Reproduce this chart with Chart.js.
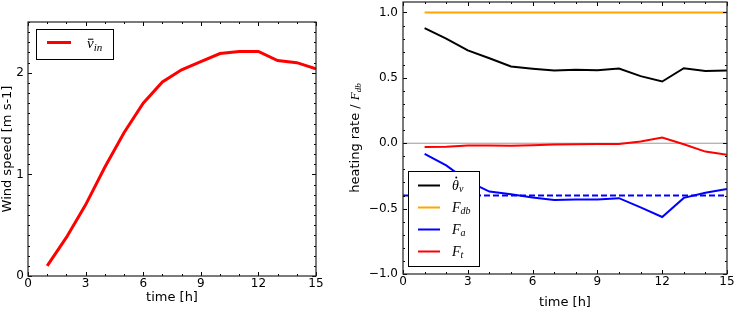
<!DOCTYPE html>
<html>
<head>
<meta charset="utf-8">
<script src="https://cdn.jsdelivr.net/npm/chart.js@4.4.0/dist/chart.umd.min.js"></script>
<style>
  html, body { margin: 0; padding: 0; background: #fff; }
  #wrap { position: relative; width: 737px; height: 310px; }
  #c1 { position: absolute; left: 0; top: 0; }
  #c2 { position: absolute; left: 340px; top: 0; }
</style>
</head>
<body>
<div id="wrap">
  <canvas id="c1" width="330" height="310"></canvas>
  <canvas id="c2" width="397" height="310"></canvas>
</div>
<script>
// time axis (hours)
const hours = [1, 2, 3, 4, 5, 6, 7, 8, 9, 10, 11, 12, 13, 14, 15];

// left panel: mean inflow wind speed
const windSpeed = [0.10, 0.38, 0.70, 1.07, 1.41, 1.70, 1.91, 2.03, 2.11, 2.19, 2.21, 2.21, 2.12, 2.10, 2.04];

// right panel: heating rates normalised by F_db
const thetaDot = [0.88, 0.80, 0.71, 0.65, 0.587, 0.57, 0.556, 0.561, 0.559, 0.571, 0.513, 0.472, 0.574, 0.553, 0.556];
const fDb = [1.0, 1.0, 1.0, 1.0, 1.0, 1.0, 1.0, 1.0, 1.0, 1.0, 1.0, 1.0, 1.0, 1.0, 1.0];
const fA = [-0.082, -0.17, -0.29, -0.37, -0.39, -0.415, -0.434, -0.43, -0.43, -0.42, -0.49, -0.564, -0.418, -0.378, -0.35];
const fT = [-0.028, -0.026, -0.018, -0.018, -0.02, -0.015, -0.01, -0.008, -0.005, -0.005, 0.013, 0.043, -0.008, -0.064, -0.089];
// reference lines
const refX = [0, 15];
const fAMean = [-0.4, -0.4];
const zeroLine = [0, 0];

// ticks
const xTicks = [0, 3, 6, 9, 12, 15];
const xTickLabels = ['0', '3', '6', '9', '12', '15'];
const yTicksLeft = [0, 1, 2];
const yTickLabelsLeft = ['0', '1', '2'];
const yTicksRight = [-1.0, -0.5, 0.0, 0.5, 1.0];
const yTickLabelsRight = ['\u22121.0', '\u22120.5', '0.0', '0.5', '1.0'];

const SANS = 'DejaVu Sans';
const SERIF = 'Liberation Serif';

const pts = (xs, ys) => xs.map((x, i) => ({ x: x, y: ys[i] }));

// italic symbol with subscript, optional dot / bar accent
function drawMath(ctx, x, y, base, sub, size, accent) {
  ctx.font = 'italic ' + size + 'px "' + SERIF + '"';
  ctx.textBaseline = 'alphabetic';
  ctx.textAlign = 'left';
  ctx.fillText(base, x, y);
  const w = ctx.measureText(base).width;
  if (accent === 'dot') {
    ctx.beginPath();
    ctx.arc(x + w * 0.62, y - size * 0.86, size * 0.07, 0, Math.PI * 2);
    ctx.fill();
  } else if (accent === 'bar') {
    ctx.fillRect(x + w * 0.15, y - size * 0.62, w * 0.8, Math.max(1, size * 0.06));
  }
  ctx.font = 'italic ' + Math.round(size * 0.7) + 'px "' + SERIF + '"';
  ctx.fillText(sub, x + w, y + size * 0.2);
  return w + ctx.measureText(sub).width;
}

// matplotlib-style frame with inward major/minor ticks on all sides
const frameTicks = {
  id: 'frameTicks',
  afterDatasetsDraw(chart, args, opts) {
    const { ctx, chartArea: a, scales: { x, y } } = chart;
    ctx.save();
    ctx.strokeStyle = '#000';
    ctx.lineWidth = 1;
    const seg = (x1, y1, x2, y2) => { ctx.beginPath(); ctx.moveTo(x1, y1); ctx.lineTo(x2, y2); ctx.stroke(); };
    const xMark = (v, len) => {
      const p = Math.round(x.getPixelForValue(v)) + 0.5;
      seg(p, a.bottom, p, a.bottom - len);
      seg(p, a.top, p, a.top + len);
    };
    const yMark = (v, len) => {
      const p = Math.round(y.getPixelForValue(v)) + 0.5;
      seg(a.left, p, a.left + len, p);
      seg(a.right, p, a.right - len, p);
    };
    for (let v = x.min; v <= x.max + 1e-9; v += opts.xMinor) xMark(v, 2);
    for (let v = Math.ceil(y.min / opts.yMinor) * opts.yMinor; v <= y.max + 1e-9; v += opts.yMinor) yMark(v, 2);
    x.ticks.forEach(t => xMark(t.value, 4));
    y.ticks.forEach(t => yMark(t.value, 4));
    ctx.lineWidth = 1.2;
    ctx.strokeStyle = '#222';
    ctx.strokeRect(a.left, a.top, a.right - a.left, a.bottom - a.top);
    ctx.restore();
  }
};

// boxed legend with math labels
const mathLegend = {
  id: 'mathLegend',
  afterDraw(chart, args, opts) {
    const ctx = chart.ctx;
    const b = opts.box;
    ctx.save();
    ctx.fillStyle = '#fff';
    ctx.fillRect(b[0], b[1], b[2] - b[0], b[3] - b[1]);
    ctx.strokeStyle = '#000';
    ctx.lineWidth = 1;
    ctx.strokeRect(b[0] + 0.5, b[1] + 0.5, b[2] - b[0], b[3] - b[1]);
    opts.items.forEach((it, i) => {
      const ry = opts.rowY[i];
      ctx.strokeStyle = it.color;
      ctx.lineWidth = opts.lineWidth;
      ctx.beginPath();
      ctx.moveTo(opts.lineX[0], ry);
      ctx.lineTo(opts.lineX[1], ry);
      ctx.stroke();
      ctx.fillStyle = '#000';
      drawMath(ctx, opts.textX, ry + opts.baseOff, it.base, it.sub, opts.size, it.accent);
    });
    ctx.restore();
  }
};

// rotated y title "heating rate / F_db"
const rightTitle = {
  id: 'rightTitle',
  afterDraw(chart) {
    const { ctx, chartArea: a } = chart;
    ctx.save();
    ctx.translate(14, (a.top + a.bottom) / 2);
    ctx.rotate(-Math.PI / 2);
    ctx.fillStyle = '#000';
    ctx.font = '13px "' + SANS + '"';
    const txt = 'heating rate / ';
    const w1 = ctx.measureText(txt).width;
    ctx.font = 'italic 13px "' + SERIF + '"';
    const w2 = ctx.measureText('F').width;
    ctx.font = 'italic 9px "' + SERIF + '"';
    const w3 = ctx.measureText('db').width;
    const x0 = -(w1 + w2 + w3) / 2;
    ctx.font = '13px "' + SANS + '"';
    ctx.textBaseline = 'alphabetic';
    ctx.fillText(txt, x0, 4.5);
    drawMath(ctx, x0 + w1, 4.5, 'F', 'db', 13, null);
    ctx.restore();
  }
};

const fixSize = (w, h) => scale => {
  if (w != null) scale.width = w;
  if (h != null) scale.height = h;
  scale.paddingLeft = 0; scale.paddingRight = 0; scale.paddingTop = 0; scale.paddingBottom = 0;
};
const setTicks = vals => scale => { scale.ticks = vals.map(v => ({ value: v })); };

function xScale(height, titlePad) {
  return {
    type: 'linear', min: 0, max: 15,
    afterBuildTicks: setTicks(xTicks),
    afterFit: fixSize(null, height),
    grid: { display: false, drawTicks: false },
    border: { display: false },
    ticks: {
      padding: 1, color: '#000', font: { family: SANS, size: 12 },
      maxRotation: 0, autoSkip: false,
      callback: (v, i) => xTickLabels[i]
    },
    title: { display: true, text: 'time [h]', color: '#000', font: { family: SANS, size: 13 }, padding: { top: 0, bottom: titlePad } }
  };
}

const common = {
  responsive: false,
  animation: false,
  events: [],
  plugins: { legend: { display: false }, tooltip: { enabled: false } },
  elements: { point: { radius: 0 }, line: { tension: 0, borderCapStyle: 'butt' } }
};

new Chart(document.getElementById('c1'), {
  type: 'line',
  data: {
    datasets: [{ data: pts(hours, windSpeed), borderColor: '#ff0000', borderWidth: 3 }]
  },
  options: Object.assign({}, common, {
    layout: { padding: { left: 0, right: 14, top: 22, bottom: 0 } },
    scales: {
      x: xScale(34, 5),
      y: {
        type: 'linear', min: 0, max: 2.5,
        afterBuildTicks: setTicks(yTicksLeft),
        afterFit: fixSize(28, null),
        grid: { display: false, drawTicks: false },
        border: { display: false },
        ticks: { padding: 4, color: '#000', font: { family: SANS, size: 12 }, callback: (v, i) => yTickLabelsLeft[i] },
        title: { display: true, text: 'Wind speed [m s-1]', color: '#000', font: { family: SANS, size: 13 }, padding: { top: 0, bottom: 0 } }
      }
    },
    plugins: Object.assign({}, common.plugins, {
      frameTicks: { xMinor: 1, yMinor: 0.1 },
      mathLegend: {
        box: [36, 29, 113, 59], rowY: [42.5], lineX: [47, 71], textX: 87, baseOff: 5.5,
        size: 15, lineWidth: 3,
        items: [{ color: '#ff0000', base: 'v', sub: 'in', accent: 'bar' }]
      }
    })
  }),
  plugins: [frameTicks, mathLegend]
});

new Chart(document.getElementById('c2'), {
  type: 'line',
  data: {
    datasets: [
      { data: pts(hours, fT), borderColor: '#ff0000', borderWidth: 2 },
      { data: pts(hours, fA), borderColor: '#0000ff', borderWidth: 2 },
      { data: pts(hours, fDb), borderColor: '#ffa500', borderWidth: 2 },
      { data: pts(hours, thetaDot), borderColor: '#000000', borderWidth: 2 },
      { data: pts(refX, fAMean), borderColor: '#0000ff', borderWidth: 2, borderDash: [6, 3] },
      { data: pts(refX, zeroLine), borderColor: '#999999', borderWidth: 1 }
    ]
  },
  options: Object.assign({}, common, {
    layout: { padding: { left: 0, right: 10, top: 2, bottom: 0 } },
    scales: {
      x: xScale(36, 0),
      y: {
        type: 'linear', min: -1.0, max: 1.08,
        afterBuildTicks: setTicks(yTicksRight),
        afterFit: fixSize(63, null),
        grid: { display: false, drawTicks: false },
        border: { display: false },
        ticks: { padding: 5, color: '#000', font: { family: SANS, size: 12 }, callback: (v, i) => yTickLabelsRight[i] },
        title: { display: false }
      }
    },
    plugins: Object.assign({}, common.plugins, {
      frameTicks: { xMinor: 1, yMinor: 0.1 },
      mathLegend: {
        box: [68, 171, 139, 266], rowY: [185.5, 207.5, 229.5, 251.5], lineX: [78, 100], textX: 112, baseOff: 4,
        size: 14, lineWidth: 2,
        items: [
          { color: '#000000', base: '\u03B8', sub: 'v', accent: 'dot' },
          { color: '#ffa500', base: 'F', sub: 'db' },
          { color: '#0000ff', base: 'F', sub: 'a' },
          { color: '#ff0000', base: 'F', sub: 't' }
        ]
      }
    })
  }),
  plugins: [frameTicks, mathLegend, rightTitle]
});
</script>
</body>
</html>
